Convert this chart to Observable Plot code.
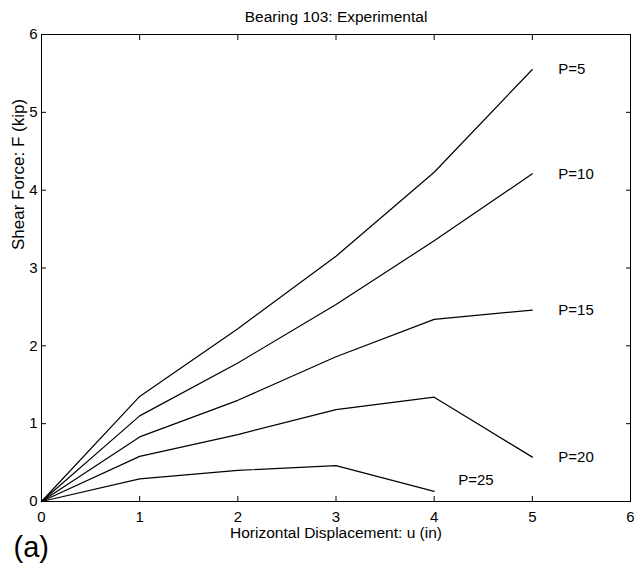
<!DOCTYPE html>
<html>
<head>
<meta charset="utf-8">
<script src="https://cdn.jsdelivr.net/npm/d3@7"></script>
<script src="https://cdn.jsdelivr.net/npm/@observablehq/plot@0.6"></script>
<style>
  html, body { margin: 0; padding: 0; background: #fff; }
</style>
</head>
<body>
<div id="chart"></div>
<script>
// Horizontal displacement u (in)
const displacement = [0, 1, 2, 3, 4, 5];
// Shear force F (kip) for each vertical load P
const seriesNames = ["P=5", "P=10", "P=15", "P=20", "P=25"];
const shearP5  = [0, 1.35, 2.22, 3.15, 4.23, 5.55];
const shearP10 = [0, 1.10, 1.78, 2.53, 3.35, 4.21];
const shearP15 = [0, 0.83, 1.30, 1.86, 2.34, 2.46];
const shearP20 = [0, 0.58, 0.86, 1.18, 1.34, 0.57];
const shearP25 = [0, 0.29, 0.40, 0.46, 0.13];
const xTicks = [0, 1, 2, 3, 4, 5, 6];
const yTicks = [0, 1, 2, 3, 4, 5, 6];
const titleText = "Bearing 103: Experimental";
const xLabel = "Horizontal Displacement: u (in)";
const yLabel = "Shear Force: F (kip)";
const panelLabel = "(a)";

const allSeries = [shearP5, shearP10, shearP15, shearP20, shearP25];
const rows = [];
allSeries.forEach((vals, i) => {
  vals.forEach((v, j) => rows.push({series: seriesNames[i], u: displacement[j], F: v}));
});
const lastPoints = allSeries.map((vals, i) => ({
  series: seriesNames[i], u: displacement[vals.length - 1], F: vals[vals.length - 1]
}));

const font = "'Liberation Sans', Arial, Helvetica, sans-serif";

const chart = Plot.plot({
  width: 634,
  height: 567,
  marginLeft: 41,
  marginRight: 4,
  marginTop: 34,
  marginBottom: 66,
  style: {fontFamily: font, fontSize: "15px", background: "#fff", color: "#000"},
  x: {domain: [0, 6]},
  y: {domain: [0, 6]},
  marks: [
    Plot.frame({stroke: "#000", strokeWidth: 1}),
    // inward tick marks on all four sides
    Plot.axisX({anchor: "bottom", ticks: xTicks, tickSize: -5, text: null, label: null}),
    Plot.axisX({anchor: "top", ticks: xTicks, tickSize: -5, text: null, label: null}),
    Plot.axisY({anchor: "left", ticks: yTicks, tickSize: -5, text: null, label: null}),
    Plot.axisY({anchor: "right", ticks: yTicks, tickSize: -5, text: null, label: null}),
    // tick labels
    Plot.axisX({anchor: "bottom", ticks: xTicks, tickSize: 0, tickPadding: 10, tickFormat: d => String(d), label: null, fontSize: 15}),
    Plot.axisY({anchor: "left", ticks: yTicks, tickSize: 0, tickPadding: 4, tickFormat: d => String(d), label: null, fontSize: 15}),
    // data lines
    Plot.line(rows, {x: "u", y: "F", z: "series", stroke: "#000", strokeWidth: 1.2}),
    // series labels
    Plot.text(lastPoints.filter(d => d.series !== "P=25"), {x: "u", y: "F", text: "series", textAnchor: "start", dx: 26, fontSize: 15}),
    Plot.text(lastPoints.filter(d => d.series === "P=25"), {x: "u", y: "F", text: "series", textAnchor: "start", dx: 24, dy: -11, fontSize: 15}),
    // title
    Plot.text([titleText], {frameAnchor: "top", lineAnchor: "middle", text: d => d, dy: -17, fontSize: 15.5}),
    // axis labels
    Plot.text([xLabel], {frameAnchor: "bottom", lineAnchor: "middle", text: d => d, dy: 32, fontSize: 15.5}),
    Plot.text([yLabel], {frameAnchor: "left", lineAnchor: "middle", text: d => d, dx: -23, dy: -18, rotate: -90, fontSize: 17}),
    // panel label
    Plot.text([panelLabel], {frameAnchor: "bottom-left", lineAnchor: "middle", text: d => d, textAnchor: "start", dx: -28, dy: 46, fontSize: 29})
  ]
});
document.getElementById("chart").appendChild(chart);
</script>
</body>
</html>
